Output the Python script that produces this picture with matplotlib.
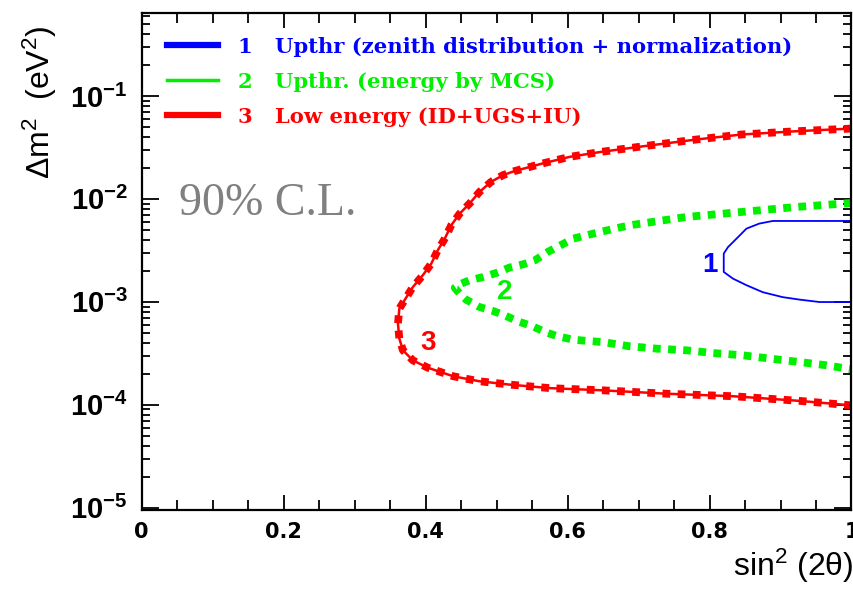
import matplotlib
matplotlib.use("Agg")
import matplotlib.pyplot as plt
from matplotlib.lines import Line2D
from matplotlib.ticker import MultipleLocator, LogLocator, FixedLocator, FixedFormatter, NullFormatter

plt.rcParams['mathtext.fontset'] = 'custom'
plt.rcParams['mathtext.rm'] = 'Liberation Sans'
plt.rcParams['mathtext.bf'] = 'Liberation Sans:bold'
plt.rcParams['mathtext.it'] = 'Liberation Sans:italic'

# ---- data ----
red_x = [1.0, 0.922, 0.845, 0.781, 0.706, 0.647, 0.603, 0.565, 0.525, 0.509, 0.492, 0.476,
         0.462, 0.448, 0.436, 0.427, 0.417, 0.408, 0.396, 0.382, 0.373, 0.363, 0.361, 0.363,
         0.368, 0.382, 0.403, 0.439, 0.476, 0.518, 0.575, 0.650, 0.739, 0.833, 0.927, 1.0]
red_y = [0.0482, 0.0454, 0.0422, 0.0377, 0.0324, 0.0286, 0.0256, 0.0221, 0.0186, 0.0170,
         0.0146, 0.0117, 0.00902, 0.00719, 0.00553, 0.00411, 0.00316, 0.00235, 0.00181,
         0.00139, 0.00111, 0.000859, 0.000614, 0.000439, 0.000338, 0.000270, 0.000229,
         0.000189, 0.000169, 0.000157, 0.000145, 0.000138, 0.000128, 0.000121, 0.000109,
         0.0000986]

green_x = [1.0, 0.922, 0.845, 0.767, 0.687, 0.645, 0.608, 0.572, 0.554, 0.537, 0.518, 0.500,
           0.481, 0.462, 0.448, 0.441, 0.448, 0.457, 0.476, 0.495, 0.511, 0.530, 0.551, 0.568,
           0.586, 0.608, 0.629, 0.650, 0.687, 0.725, 0.767, 0.805, 0.847, 0.885, 0.927, 0.964, 1.0]
green_y = [0.00912, 0.00834, 0.00746, 0.00667, 0.00553, 0.00476, 0.00411, 0.00305, 0.00253,
           0.00231, 0.00215, 0.00191, 0.00174, 0.00162, 0.00148, 0.00137, 0.00120, 0.00105,
           0.000889, 0.000815, 0.000740, 0.000646, 0.000578, 0.000509, 0.000462, 0.000429,
           0.000416, 0.000406, 0.000370, 0.000351, 0.000338, 0.000318, 0.000302, 0.000281,
           0.000260, 0.000242, 0.000221]

blue_x = [1.0, 0.889, 0.870, 0.852, 0.838, 0.826, 0.820, 0.820, 0.833, 0.852, 0.875, 0.903,
          0.927, 0.955, 1.0]
blue_y = [0.00610, 0.00610, 0.00575, 0.00514, 0.00411, 0.00340, 0.00294, 0.00195, 0.00168,
          0.00145, 0.00124, 0.00111, 0.00105, 0.000995, 0.000995]

legend_labels = ["Upthr (zenith distribution + normalization)",
                 "Upthr. (energy by MCS)",
                 "Low energy (ID+UGS+IU)"]
curve_ids = ["1", "2", "3"]
colors = ["#0000ff", "#00f000", "#ff0000"]

x_ticks = [0, 0.2, 0.4, 0.6, 0.8, 1]
x_ticklabels = ["0", "0.2", "0.4", "0.6", "0.8", "1"]
y_ticks = [1e-5, 1e-4, 1e-3, 1e-2, 1e-1]
y_ticklabels = [r"$\mathbf{10^{-5}}$", r"$\mathbf{10^{-4}}$", r"$\mathbf{10^{-3}}$",
                r"$\mathbf{10^{-2}}$", r"$\mathbf{10^{-1}}$"]

# ---- figure ----
fig = plt.figure(figsize=(8.54, 5.89), dpi=100)
ax = fig.add_axes([141.7/854, 1-509.5/589, (851.5-141.7)/854, (509.5-13.3)/589])
ax.set_xlim(0, 1)
ax.set_yscale('log')
ax.set_ylim(0.96e-5, 0.635)

# blue contour: thin solid line
ax.plot(blue_x, blue_y, color=colors[0], lw=1.3)

# green contour: chain of square dots (dotted thick line)
ax.plot(green_x, green_y, color=colors[1], lw=5.6, linestyle=(0, (1.0, 0.95)),
        dash_capstyle='butt', solid_joinstyle='miter')

# red contour: solid line with dense square marks
ax.plot(red_x, red_y, color=colors[2], lw=1.8)
ax.plot(red_x, red_y, color=colors[2], lw=5.6, linestyle=(0, (1.0, 0.95)),
        dash_capstyle='butt')

# contour number labels
lab_font = dict(family='Liberation Sans', fontweight='bold', fontsize=20, ha='center', va='center')
ax.text(0.800, 2.29e-3, "1", color=colors[0], **lab_font)
ax.text(0.511, 1.25e-3, "2", color=colors[1], **lab_font)
ax.text(0.403, 4.0e-4, "3", color=colors[2], **lab_font)

# 90% C.L.
ax.text(0.053, 0.0070, "90% C.L.", color='#808080', fontsize=33, family='Liberation Serif',
        ha='left', va='baseline')

# legend
handles = [Line2D([], [], color=colors[0], lw=4.5),
           Line2D([], [], color=colors[1], lw=2.5),
           Line2D([], [], color=colors[2], lw=4.5)]
labels = [f"{n}   {t}" for n, t in zip(curve_ids, legend_labels)]
leg = ax.legend(handles, labels, loc='upper left', bbox_to_anchor=(0.036, 0.953), frameon=False,
                prop=dict(family='DejaVu Serif', weight='bold', size=15.2),
                handlelength=2.4, handletextpad=0.95, labelspacing=0.71, borderpad=0, borderaxespad=0)
for t, c in zip(leg.get_texts(), colors):
    t.set_color(c)

# ticks
ax.xaxis.set_major_locator(FixedLocator(x_ticks))
ax.xaxis.set_major_formatter(FixedFormatter(x_ticklabels))
ax.xaxis.set_minor_locator(MultipleLocator(0.05))
ax.yaxis.set_major_locator(FixedLocator(y_ticks))
ax.yaxis.set_major_formatter(FixedFormatter(y_ticklabels))
ax.yaxis.set_minor_locator(LogLocator(base=10, subs=[2, 3, 4, 5, 6, 7, 8, 9], numticks=20))
ax.yaxis.set_minor_formatter(NullFormatter())

ax.tick_params(which='both', direction='in', top=True, right=True, width=1.3, color='black')
ax.tick_params(axis='x', which='major', length=11, pad=9)
ax.tick_params(axis='x', which='minor', length=7)
ax.tick_params(axis='y', which='major', length=12, pad=10)
ax.tick_params(axis='y', which='minor', length=6)
for lbl in ax.get_xticklabels():
    lbl.set_family('DejaVu Sans')
    lbl.set_fontweight('bold')
    lbl.set_fontsize(15)
for lbl in ax.get_yticklabels():
    lbl.set_fontsize(21)

for s in ax.spines.values():
    s.set_linewidth(1.6)

# axis titles
fig.text(40/854, 1-102/589, r"$\Delta$m$^2$  (eV$^2$)", rotation=90, fontsize=23,
         family='Liberation Sans', ha='center', va='center')
fig.text(853/854, 1-566/589, r"sin$^2$ (2θ)", fontsize=23, family='Liberation Sans',
         ha='right', va='center')

fig.savefig("out.png", dpi=100)
